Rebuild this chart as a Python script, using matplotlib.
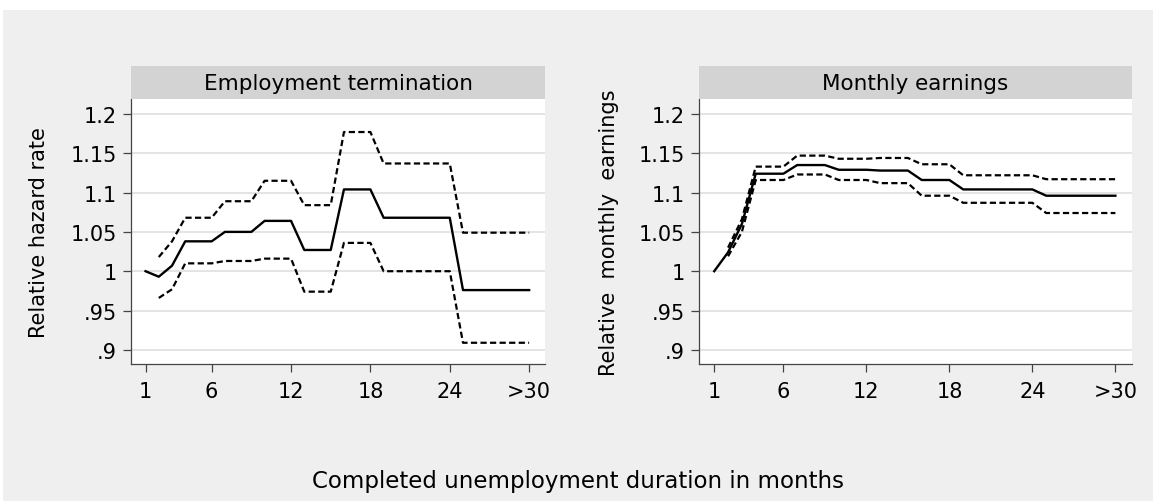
"""Relative hazard rate and monthly earnings by completed unemployment duration."""
import numpy as np
import matplotlib
matplotlib.use("Agg")
import matplotlib.pyplot as plt
from matplotlib.patches import Rectangle

plt.rcParams.update({
    "font.family": ["DejaVu Sans"],
    "font.size": 15,
})

nan = np.nan
months = list(range(1, 31))
tick_pos = [1, 6, 12, 18, 24, 30]
tick_lab = ["1", "6", "12", "18", "24", ">30"]
y_ticks = [0.9, 0.95, 1.0, 1.05, 1.1, 1.15, 1.2]
y_labs = [".9", ".95", "1", "1.05", "1.1", "1.15", "1.2"]

# Employment termination (relative hazard rate)
haz_est = [1.000, 0.993, 1.007, 1.038, 1.038, 1.038, 1.050, 1.050, 1.050, 1.064,
           1.064, 1.064, 1.027, 1.027, 1.027, 1.104, 1.104, 1.104, 1.068, 1.068,
           1.068, 1.068, 1.068, 1.068, 0.976, 0.976, 0.976, 0.976, 0.976, 0.976]
haz_hi = [nan, 1.018, 1.038, 1.068, 1.068, 1.068, 1.089, 1.089, 1.089, 1.115,
          1.115, 1.115, 1.084, 1.084, 1.084, 1.177, 1.177, 1.177, 1.137, 1.137,
          1.137, 1.137, 1.137, 1.137, 1.049, 1.049, 1.049, 1.049, 1.049, 1.049]
haz_lo = [nan, 0.966, 0.977, 1.010, 1.010, 1.010, 1.013, 1.013, 1.013, 1.016,
          1.016, 1.016, 0.974, 0.974, 0.974, 1.036, 1.036, 1.036, 1.000, 1.000,
          1.000, 1.000, 1.000, 1.000, 0.909, 0.909, 0.909, 0.909, 0.909, 0.909]

# Monthly earnings (relative)
earn_est = [1.000, 1.024, 1.060, 1.124, 1.124, 1.124, 1.135, 1.135, 1.135, 1.129,
            1.129, 1.129, 1.128, 1.128, 1.128, 1.116, 1.116, 1.116, 1.104, 1.104,
            1.104, 1.104, 1.104, 1.104, 1.096, 1.096, 1.096, 1.096, 1.096, 1.096]
earn_hi = [nan, 1.030, 1.066, 1.133, 1.133, 1.133, 1.147, 1.147, 1.147, 1.143,
           1.143, 1.143, 1.144, 1.144, 1.144, 1.136, 1.136, 1.136, 1.122, 1.122,
           1.122, 1.122, 1.122, 1.122, 1.117, 1.117, 1.117, 1.117, 1.117, 1.117]
earn_lo = [nan, 1.019, 1.050, 1.116, 1.116, 1.116, 1.123, 1.123, 1.123, 1.116,
           1.116, 1.116, 1.112, 1.112, 1.112, 1.096, 1.096, 1.096, 1.087, 1.087,
           1.087, 1.087, 1.087, 1.087, 1.074, 1.074, 1.074, 1.074, 1.074, 1.074]

BG = "#efefef"
STRIP = "#d3d3d3"
GRID = "#e4e4e4"
AX = "#444444"
W, H = 1153, 502

fig = plt.figure(figsize=(W / 100, H / 100), dpi=100, facecolor="white")
fig.patches.append(Rectangle((3 / W, 0), 1, (H - 11) / H, transform=fig.transFigure,
                             facecolor=BG, edgecolor="none", zorder=-10))


def px(x0, y0, x1, y1):
    # pixel box (top-left origin) -> figure fraction rect
    return [x0 / W, (H - y1) / H, (x1 - x0) / W, (y1 - y0) / H]


def panel(box, title, ylabel, ylab_x, est, hi, lo):
    x0, y0, x1, y1 = box
    ax = fig.add_axes(px(x0, y0, x1, y1))
    ax.set_facecolor("white")
    for yv in y_ticks:
        ax.axhline(yv, color=GRID, lw=1.4, zorder=0)
    ax.plot(months, est, color="black", lw=1.7, zorder=3)
    ax.plot(months, hi, color="black", lw=1.6, ls=(0, (2.8, 1.5)), zorder=3)
    ax.plot(months, lo, color="black", lw=1.6, ls=(0, (2.8, 1.5)), zorder=3)
    ax.set_xlim(-0.1, 31.2)
    ax.set_ylim(0.882, 1.219)
    ax.set_xticks(tick_pos, tick_lab)
    ax.set_yticks(y_ticks, y_labs)
    ax.tick_params(length=5.8, width=0.9, color=AX, labelsize=15)
    ax.tick_params(axis="y", pad=4.3)
    ax.tick_params(axis="x", pad=6.5)
    for s in ("top", "right"):
        ax.spines[s].set_visible(False)
    for s in ("left", "bottom"):
        ax.spines[s].set_color(AX)
        ax.spines[s].set_linewidth(0.9)
    ax.set_ylabel(ylabel, fontsize=15)
    ax.yaxis.label.set_va("center")
    ax.yaxis.set_label_coords((ylab_x - x0) / (x1 - x0), 0.5)

    sx = fig.add_axes(px(x0, 67, x1, y0))
    sx.set_facecolor(STRIP)
    sx.set_xticks([])
    sx.set_yticks([])
    for s in sx.spines.values():
        s.set_visible(False)
    sx.text(0.5, 0.5, title, ha="center", va="center", fontsize=15.5,
            transform=sx.transAxes)
    return ax


panel((131, 100, 545, 365), "Employment termination",
      "Relative hazard rate", 39, haz_est, haz_hi, haz_lo)
panel((699, 100, 1132, 365), "Monthly earnings",
      "Relative  monthly  earnings", 609, earn_est, earn_hi, earn_lo)

fig.text(578 / W, 1 - 482 / H, "Completed unemployment duration in months",
         ha="center", va="center", fontsize=16.5)

fig.savefig("out.png", dpi=100, facecolor=fig.get_facecolor())
